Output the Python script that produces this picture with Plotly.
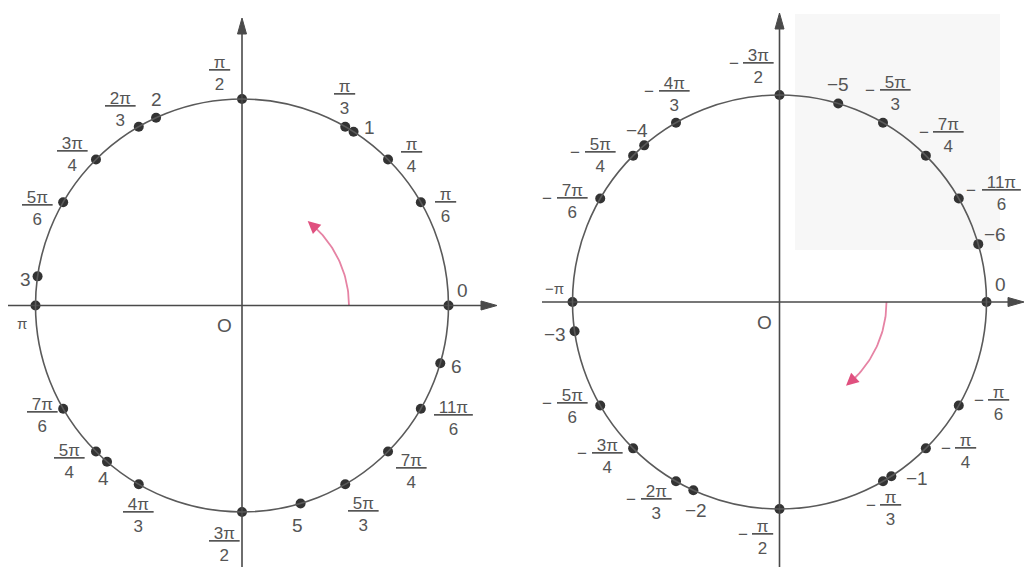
import numpy as np
import plotly.graph_objects as go

PI = np.pi

# ---------------- data ----------------
left_labels = ["0", "π/6", "π/4", "1", "π/3", "π/2", "2", "2π/3", "3π/4", "5π/6", "3",
               "π", "7π/6", "5π/4", "4", "4π/3", "3π/2", "5", "5π/3", "7π/4", "11π/6", "6"]
left_angles = [0, PI / 6, PI / 4, 1, PI / 3, PI / 2, 2, 2 * PI / 3, 3 * PI / 4, 5 * PI / 6, 3,
               PI, 7 * PI / 6, 5 * PI / 4, 4, 4 * PI / 3, 3 * PI / 2, 5, 5 * PI / 3, 7 * PI / 4, 11 * PI / 6, 6]

right_labels = ["0", "-π/6", "-π/4", "-1", "-π/3", "-π/2", "-2", "-2π/3", "-3π/4", "-5π/6", "-3",
                "-π", "-7π/6", "-5π/4", "-4", "-4π/3", "-3π/2", "-5", "-5π/3", "-7π/4", "-11π/6", "-6"]
right_angles = [0, -PI / 6, -PI / 4, -1, -PI / 3, -PI / 2, -2, -2 * PI / 3, -3 * PI / 4, -5 * PI / 6, -3,
                -PI, -7 * PI / 6, -5 * PI / 4, -4, -4 * PI / 3, -3 * PI / 2, -5, -5 * PI / 3, -7 * PI / 4, -11 * PI / 6, -6]

# rotation arrows (start / end angle, radians)
left_arrow_span = [0.0, 0.91]
right_arrow_span = [0.0, -0.90]

# ---------------- layout / style ----------------
W, H = 1025, 567
LEFT = dict(cx=242, cy=305.5, r=206.5)
RIGHT = dict(cx=779.5, cy=302, r=207)
ARC_R = 107

INK = "#4a4a4a"
TEXT = "#555555"
DOT = "#333333"
PINK_LINE = "#e683a4"
PINK_HEAD = "#e0507f"
FONT = "Liberation Sans"

# label offsets (pixels, +x right, +y down) relative to each dot
left_off = {
    "0": (14, -15), "π/6": (25, 3), "π/4": (23, -4), "1": (16, -4), "π/3": (-1, -29),
    "π/2": (-23, -26), "2": (0, -18), "2π/3": (-18, -17), "3π/4": (-23, -5), "5π/6": (-26, 6),
    "3": (-12, 3), "π": (-14, 18), "7π/6": (-21, 7), "5π/4": (-26, 10), "4": (-4, 17),
    "4π/3": (0, 31), "3π/2": (-18, 32), "5": (-3, 22), "5π/3": (18, 30), "7π/4": (23, 20),
    "11π/6": (33, 10), "6": (16, 3),
}
right_off = {
    "0": (14, -18), "-π/6": (40, -2), "-π/4": (40, 3), "-1": (26, 2), "-π/3": (7, 27),
    "-π/2": (-17, 28), "-2": (3, 20), "-2π/3": (-20, 21), "-3π/4": (-26, 8), "-5π/6": (-28, 1),
    "-3": (-20, 3), "-π": (-18, -14), "-7π/6": (-28, 3), "-5π/4": (-33, 0), "-4": (-7, -15),
    "-4π/3": (-2, -28), "-3π/2": (-21, -29), "-5": (0, -19), "-5π/3": (12, -29),
    "-7π/4": (23, -20), "-11π/6": (43, -5), "-6": (17, -10),
}

fig = go.Figure()
shapes = []
annotations = []

# faint scan shading on the right half
shapes.append(dict(type="rect", xref="x", yref="y", x0=795, x1=1000, y0=14, y1=250,
                   fillcolor="#f7f7f7", line=dict(width=0), layer="below"))


def add_axes(c, xl, xr_tip, ytop_tip):
    cx, cy = c["cx"], c["cy"]
    L, hw = 16, 4.5
    shapes.append(dict(type="line", xref="x", yref="y", x0=xl, x1=xr_tip - L + 2, y0=cy, y1=cy,
                       line=dict(color=INK, width=1.6)))
    shapes.append(dict(type="path", xref="x", yref="y",
                       path=f"M{xr_tip},{cy} L{xr_tip - L},{cy - hw} L{xr_tip - L},{cy + hw} Z",
                       fillcolor=INK, line=dict(color=INK, width=1)))
    shapes.append(dict(type="line", xref="x", yref="y", x0=cx, x1=cx, y0=H, y1=ytop_tip + L - 2,
                       line=dict(color=INK, width=1.6)))
    shapes.append(dict(type="path", xref="x", yref="y",
                       path=f"M{cx},{ytop_tip} L{cx - hw},{ytop_tip + L} L{cx + hw},{ytop_tip + L} Z",
                       fillcolor=INK, line=dict(color=INK, width=1)))
    shapes.append(dict(type="circle", xref="x", yref="y", x0=cx - c["r"], x1=cx + c["r"],
                       y0=cy - c["r"], y1=cy + c["r"], line=dict(color="#5a5a5a", width=1.6)))


add_axes(LEFT, 8, 497, 18)
add_axes(RIGHT, 542, 1024, 13)


def label_annots(c, labels, angles, offs):
    for lab, a in zip(labels, angles):
        x = c["cx"] + c["r"] * np.cos(a)
        y = c["cy"] - c["r"] * np.sin(a)
        dx, dy = offs[lab]
        neg = lab.startswith("-")
        body = lab[1:] if neg else lab
        if "/" in body:
            num, den = body.split("/")
            txt = f"<u>\u00a0{num}\u00a0</u><br>{den}"
            annotations.append(dict(x=x, y=y, xref="x", yref="y", text=txt, showarrow=False,
                                    xshift=dx, yshift=-dy, xanchor="center", yanchor="middle",
                                    font=dict(family=FONT, size=17, color=TEXT)))
            if neg:
                mdx = dx - (14 + 5.5 * len(num))
                annotations.append(dict(x=x, y=y, xref="x", yref="y", text="\u2212", showarrow=False,
                                        xshift=mdx, yshift=-dy + 3, xanchor="center", yanchor="middle",
                                        font=dict(family=FONT, size=17, color=TEXT)))
        else:
            size = 15 if body == "π" else 19
            txt = ("\u2212" if neg else "") + body
            annotations.append(dict(x=x, y=y, xref="x", yref="y", text=txt, showarrow=False,
                                    xshift=dx, yshift=-dy, xanchor="center", yanchor="middle",
                                    font=dict(family=FONT, size=size, color=TEXT)))
    xs = [c["cx"] + c["r"] * np.cos(a) for a in angles]
    ys = [c["cy"] - c["r"] * np.sin(a) for a in angles]
    fig.add_trace(go.Scatter(x=xs, y=ys, mode="markers", hoverinfo="skip",
                             marker=dict(size=10, color=DOT, line=dict(width=0))))


label_annots(LEFT, left_labels, left_angles, left_off)
label_annots(RIGHT, right_labels, right_angles, right_off)

# origin labels
annotations.append(dict(x=LEFT["cx"], y=LEFT["cy"], xref="x", yref="y", text="O", showarrow=False,
                        xshift=-18, yshift=-20, font=dict(family=FONT, size=19, color=TEXT)))
annotations.append(dict(x=RIGHT["cx"], y=RIGHT["cy"], xref="x", yref="y", text="O", showarrow=False,
                        xshift=-15, yshift=-20, font=dict(family=FONT, size=19, color=TEXT)))


def add_rot_arrow(c, span):
    t = np.linspace(span[0], span[1] * 0.9, 40)
    xs = c["cx"] + ARC_R * np.cos(t)
    ys = c["cy"] - ARC_R * np.sin(t)
    fig.add_trace(go.Scatter(x=xs, y=ys, mode="lines", hoverinfo="skip",
                             line=dict(color=PINK_LINE, width=1.8)))
    te = span[1]
    tb = span[1] * 0.86
    annotations.append(dict(x=c["cx"] + ARC_R * np.cos(te), y=c["cy"] - ARC_R * np.sin(te),
                            ax=c["cx"] + ARC_R * np.cos(tb), ay=c["cy"] - ARC_R * np.sin(tb),
                            xref="x", yref="y", axref="x", ayref="y", text="", showarrow=True,
                            arrowhead=2, arrowsize=1.4, arrowwidth=1.8, arrowcolor=PINK_HEAD,
                            standoff=0))


add_rot_arrow(LEFT, left_arrow_span)
add_rot_arrow(RIGHT, right_arrow_span)

fig.update_layout(
    width=W, height=H, margin=dict(l=0, r=0, t=0, b=0),
    paper_bgcolor="white", plot_bgcolor="white", showlegend=False,
    xaxis=dict(range=[0, W], visible=False, fixedrange=True),
    yaxis=dict(range=[H, 0], visible=False, fixedrange=True),
    shapes=shapes, annotations=annotations,
)

fig.write_html("out.html", config=dict(displayModeBar=False),
               post_script="document.body.style.margin='0';document.body.style.overflow='hidden';")
